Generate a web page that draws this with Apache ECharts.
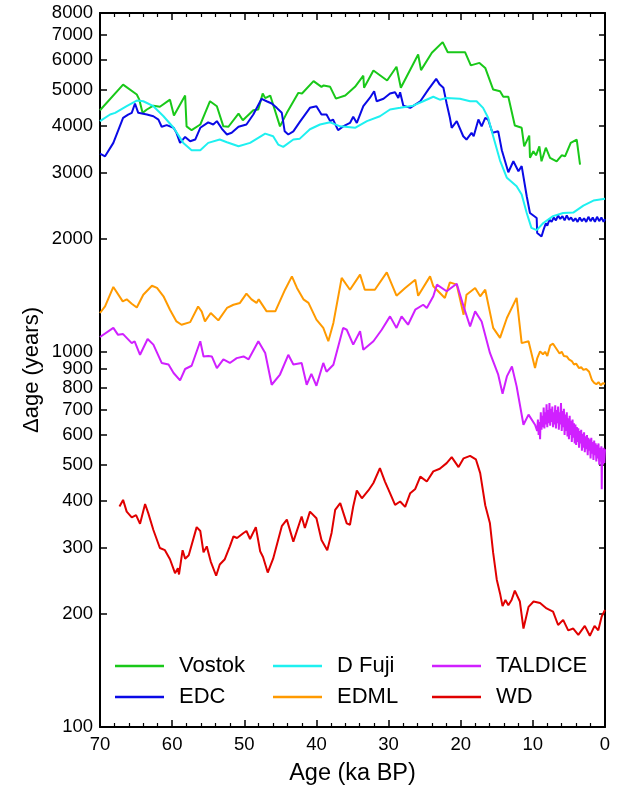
<!DOCTYPE html>
<html>
<head>
<meta charset="utf-8">
<script src="https://cdn.jsdelivr.net/npm/echarts@6/dist/echarts.min.js"></script>
<style>
html,body{margin:0;padding:0;background:#fff;}
#chart{width:619px;height:785px;}
</style>
</head>
<body>
<div id="chart"></div>
<script>
// [age (ka BP), delta age (years)]
const vostok = [[70,4405],[66.8,5155],[64.9,4850],[64.55,4700],[64.1,4335],[63.5,4425],[62.6,4530],[61.7,4500],[60.3,4700],[59.75,4265],[58.2,4820],[58.0,3990],[57.3,3897],[56.1,4035],[54.75,4655],[53.8,4515],[52.9,3990],[52.2,3980],[50.8,4315],[50.2,4140],[48.75,4405],[48.06,4425],[47.45,4880],[47.1,4745],[46.4,4820],[45.05,3990],[44.1,4335],[42.5,4900],[42.0,4880],[40.4,5265],[39.3,5085],[39.0,5130],[38.1,5085],[37.3,4730],[36.0,4820],[34.65,5085],[33.5,5445],[33.4,5055],[32.1,5620],[30.2,5285],[28.9,5750],[28.3,5055],[25.9,6200],[25.5,5635],[24.0,6265],[22.5,6690],[21.8,6290],[19.4,6290],[18.6,5800],[17.4,5890],[16.6,5710],[15.5,5000],[14.55,4950],[14.1,4785],[13.4,4785],[12.5,4010],[11.55,3955],[11.2,3530],[10.5,3770],[10.4,3290],[9.93,3425],[9.56,3340],[9.1,3530],[8.8,3220],[8.2,3500],[7.62,3290],[6.7,3220],[6.0,3340],[5.54,3320],[4.75,3605],[3.92,3680],[3.46,3155]];

const edc = [[70,3375],[69.3,3320],[68.15,3605],[66.8,4205],[66.1,4290],[65.6,4335],[65.15,4590],[64.7,4335],[63.5,4290],[62.6,4245],[61.9,4160],[61.45,3980],[60.75,4020],[59.8,3955],[59.4,3835],[58.9,3605],[58.2,3740],[57.5,3640],[56.8,3680],[56.1,3955],[55.0,4090],[54.3,4035],[53.8,4120],[53.1,3930],[52.4,3795],[51.75,3835],[50.8,3980],[49.7,4035],[48.75,4290],[47.6,4725],[46.9,4655],[46.2,4590],[45.5,4470],[44.8,4335],[44.4,3870],[43.9,3795],[43.2,3870],[42.3,4100],[40.9,4470],[40.0,4515],[39.3,4290],[38.6,4290],[38.1,4120],[37.7,4160],[37.0,3897],[36.3,3990],[35.35,4075],[34.9,4230],[34.4,4075],[33.5,4515],[32.6,4750],[32.0,4950],[31.65,4655],[30.7,4725],[29.8,4880],[29.1,4920],[28.65,4750],[28.4,4920],[27.95,4530],[27.0,4470],[25.6,4655],[24.5,5000],[23.4,5340],[22.9,5155],[22.4,5055],[21.95,4590],[21.5,4205],[21.25,3955],[20.55,4120],[19.65,3755],[19.2,3680],[18.5,3835],[18.2,3755],[17.55,4160],[17.1,3990],[16.6,4205],[16.2,4160],[15.6,3835],[14.8,3870],[14.3,3445],[13.4,3010],[12.7,3220],[12.0,3030],[11.55,3125],[10.85,2598],[10.4,2345],[9.47,2273],[9.4,2073],[8.8,2030],[8.5,2120],[8.2,2200],[8.0,2170],[7.7,2250],[7.4,2220],[7.1,2280],[6.8,2240],[6.5,2310],[6.2,2260],[5.9,2300],[5.6,2240],[5.3,2310],[5.0,2250],[4.7,2280],[4.4,2230],[4.1,2270],[3.8,2220],[3.5,2280],[3.2,2230],[2.9,2270],[2.6,2220],[2.3,2290],[2.0,2230],[1.7,2280],[1.4,2220],[1.1,2290],[0.8,2230],[0.5,2280],[0.2,2220],[0,2260]];

const dfuji = [[70,4120],[68.6,4290],[67.9,4335],[66.3,4515],[64.9,4675],[64.0,4655],[62.6,4515],[61.2,4245],[59.8,3955],[58.45,3605],[57.3,3445],[56.1,3445],[55.0,3605],[53.4,3680],[52.4,3620],[50.8,3530],[49.2,3605],[47.1,3815],[46.0,3755],[45.3,3568],[44.6,3517],[43.2,3680],[42.3,3700],[40.9,3920],[39.5,4035],[38.1,4090],[36.7,3990],[34.65,3955],[33.0,4120],[31.2,4245],[29.8,4425],[28.4,4470],[26.6,4530],[25.2,4655],[23.8,4785],[22.9,4700],[21.95,4750],[20.1,4725],[18.7,4655],[17.8,4655],[16.9,4470],[16.2,4205],[15.5,3755],[14.55,3235],[13.6,2910],[12.25,2763],[11.55,2625],[10.85,2345],[10.2,2140],[9.47,2110],[8.55,2205],[7.2,2300],[5.8,2345],[4.4,2350],[3.0,2453],[1.6,2530],[0,2560]];

const edml = [[70,1269],[69.3,1321],[68.15,1489],[66.85,1363],[66.3,1380],[65.6,1343],[64.9,1313],[64.0,1420],[62.8,1500],[62.1,1480],[61.2,1406],[60.3,1295],[59.4,1205],[58.7,1181],[57.5,1200],[56.4,1321],[55.9,1280],[55.45,1205],[54.65,1269],[53.6,1213],[52.4,1309],[51.5,1335],[50.6,1350],[49.7,1429],[49.0,1380],[48.3,1350],[48.0,1380],[46.9,1282],[45.7,1282],[44.35,1464],[43.4,1589],[42.7,1480],[41.8,1380],[41.1,1350],[40.0,1218],[39.05,1158],[38.35,1067],[37.65,1194],[36.5,1574],[35.35,1464],[33.95,1606],[33.3,1464],[31.9,1464],[30.25,1629],[28.9,1411],[27.7,1480],[26.3,1557],[25.9,1411],[24.25,1589],[23.8,1495],[22.2,1392],[21.5,1531],[20.55,1510],[19.6,1256],[19.2,1420],[18.0,1480],[17.3,1406],[16.6,1464],[15.5,1158],[14.55,1089],[13.6,1231],[12.25,1392],[11.55,1055],[10.6,1067],[9.7,905],[9.4,960],[9.0,1003],[8.6,985],[8.3,1000],[8.0,975],[7.6,1040],[7.2,1051],[6.9,1030],[6.6,1010],[6.3,990],[6.0,1000],[5.7,975],[5.3,972],[5.0,955],[4.6,945],[4.3,925],[4.0,930],[3.6,905],[3.3,910],[3.0,895],[2.6,900],[2.2,885],[2.0,895],[1.8,840],[1.5,826],[1.2,820],[0.9,830],[0.6,815],[0.3,825],[0,822]];

const taldice = [[70,1095],[68.15,1158],[67.5,1110],[66.8,1115],[65.6,1055],[65.2,1067],[64.45,982],[63.4,1082],[62.6,1045],[61.45,934],[60.5,925],[59.8,878],[58.9,839],[58.2,900],[57.3,918],[56.1,1067],[55.65,972],[55.0,975],[54.5,972],[53.8,905],[52.9,955],[52.0,934],[51.05,962],[50.1,972],[49.4,955],[48.05,1067],[47.1,993],[46.2,817],[45.05,870],[43.9,982],[43.2,925],[42.05,934],[41.35,817],[40.7,873],[40.0,812],[39.05,934],[38.6,885],[37.65,924],[36.3,1158],[35.8,1145],[34.9,1045],[33.95,1135],[33.5,1013],[32.1,1067],[30.95,1145],[29.8,1243],[28.9,1158],[28.2,1243],[27.3,1181],[26.3,1295],[25.2,1335],[24.7,1309],[23.8,1406],[23.3,1510],[21.95,1450],[20.55,1519],[19.6,1321],[18.7,1169],[18.0,1282],[17.1,1205],[15.95,993],[14.8,869],[14.2,773],[13.6,860],[12.9,914],[12.25,809],[11.3,639],[10.6,680],[9.7,639],
[9.5,640],[9.4,615],[9.3,660],[9.2,600],[9.1,650],[9.0,585],[8.9,690],[8.8,620],[8.7,675],[8.6,630],[8.5,710],[8.4,625],[8.3,690],[8.2,640],[8.1,725],[8.0,630],[7.9,700],[7.8,645],[7.7,730],[7.6,635],[7.5,705],[7.4,650],[7.3,715],[7.2,630],[7.1,690],[7.0,640],[6.9,720],[6.8,625],[6.7,700],[6.6,645],[6.5,715],[6.4,620],[6.3,690],[6.2,640],[6.1,730],[6.0,615],[5.9,695],[5.8,630],[5.7,705],[5.6,600],[5.5,680],[5.4,615],[5.3,690],[5.2,595],[5.1,665],[5.0,585],[4.9,675],[4.8,600],[4.7,655],[4.6,575],[4.5,660],[4.4,590],[4.3,645],[4.2,570],[4.1,640],[4.0,565],[3.9,630],[3.8,575],[3.7,625],[3.6,555],[3.5,615],[3.4,570],[3.3,620],[3.2,545],[3.1,605],[3.0,555],[2.9,610],[2.8,540],[2.7,595],[2.6,550],[2.5,600],[2.4,530],[2.3,590],[2.2,545],[2.1,585],[2.0,520],[1.9,590],[1.8,535],[1.7,575],[1.6,515],[1.5,580],[1.4,530],[1.3,570],[1.2,510],[1.1,565],[1.0,520],[0.9,570],[0.8,500],[0.7,555],[0.6,510],[0.5,560],[0.45,430],[0.4,540],[0.3,500],[0.2,555],[0.1,505],[0,550]];

const wd = [[67.3,387],[66.8,403],[66.3,375],[65.6,362],[65.0,367],[64.45,348],[63.75,393],[63.3,371],[62.6,335],[61.7,300],[61.0,296],[60.3,280],[59.6,257],[59.2,265],[59.05,255],[58.55,296],[58.2,281],[57.7,287],[56.6,341],[56.1,333],[55.65,292],[55.2,303],[54.65,276],[53.9,253],[53.4,271],[52.7,280],[52.0,303],[51.5,322],[51.0,319],[50.1,329],[49.7,333],[49.2,317],[48.4,341],[47.8,294],[47.4,284],[46.75,258],[46.0,281],[44.8,343],[44.1,357],[43.2,312],[42.05,364],[41.6,339],[40.9,375],[40.0,360],[39.3,315],[38.5,296],[37.9,329],[37.4,379],[36.7,395],[35.8,349],[35.35,346],[34.9,387],[34.4,427],[33.7,407],[32.8,427],[32.1,447],[31.2,490],[30.5,451],[29.8,420],[29.1,391],[28.4,399],[27.7,386],[27.0,420],[26.3,431],[25.6,465],[24.7,451],[23.8,480],[22.9,488],[21.95,505],[21.25,524],[20.3,493],[19.6,520],[18.7,528],[17.9,517],[17.3,475],[16.6,390],[15.95,349],[15.5,291],[15.0,247],[14.55,227],[14.2,210],[13.8,218],[13.4,211],[12.95,218],[12.5,231],[11.8,216],[11.3,183],[10.6,209],[9.9,216],[9.0,214],[8.1,207],[7.2,203],[6.5,187],[5.8,193],[5.1,181],[4.4,183],[3.7,176],[2.8,186],[2.1,175],[1.45,186],[0.93,181],[0.46,197],[0,205]];

const yTickValues = [100,200,300,400,500,600,700,800,900,1000,2000,3000,4000,5000,6000,7000,8000];
const seriesNames = ['Vostok','EDC','D Fuji','EDML','TALDICE','WD'];
const seriesColors = ['#19c819','#0a0ae6','#1ef0f0','#ff9a00','#d020ff','#e00000'];
const seriesData = [vostok, edc, dfuji, edml, taldice, wd];

const FONT = "'Liberation Sans', Arial, sans-serif";
const logTicks = yTickValues.map(v => Math.log10(v));
const yMinLog = Math.log10(100), yMaxLog = Math.log10(8000);

const chart = echarts.init(document.getElementById('chart'), null, {renderer:'canvas'});

const xCommon = {
  type:'value', min:0, max:70, interval:10, inverse:true,
  axisLine:{show:true, onZero:false, lineStyle:{color:'#000', width:2}},
  axisTick:{show:true, inside:true, length:7, lineStyle:{color:'#000', width:1.5}},
  minorTick:{show:true, splitNumber:5, length:4, lineStyle:{color:'#000', width:1.2}},
  splitLine:{show:false}, minorSplitLine:{show:false}
};

const legendCommon = {
  orient:'vertical', top:650, itemWidth:49, itemHeight:2.5, itemGap:9, icon:'rect',
  textStyle:{fontSize:22, fontFamily:FONT, color:'#000', padding:[0,0,0,10], lineHeight:22},
  selectedMode:false
};

chart.setOption({
  animation:false,
  backgroundColor:'#fff',
  grid:{left:100, right:14, top:13, bottom:58, containLabel:false, outerBoundsMode:'none'},
  legend:[
    Object.assign({}, legendCommon, {left:110, data:['Vostok','EDC']}),
    Object.assign({}, legendCommon, {left:268, data:['D Fuji','EDML']}),
    Object.assign({}, legendCommon, {left:427, data:['TALDICE','WD']})
  ],
  xAxis:[
    Object.assign({}, xCommon, {
      position:'bottom',
      name:'Age (ka BP)', nameLocation:'middle', nameGap:35,
      nameTextStyle:{fontSize:23.5, fontFamily:FONT, color:'#000'},
      axisLabel:{show:true, margin:8, fontSize:18.5, fontFamily:FONT, color:'#000'}
    }),
    Object.assign({}, xCommon, {position:'top', axisLabel:{show:false}})
  ],
  yAxis:[
    {
      type:'log', logBase:10, min:100, max:8000, position:'left',
      name:'\u0394age (years)', nameLocation:'middle', nameGap:57,
      nameTextStyle:{fontSize:22, fontFamily:FONT, color:'#000'},
      axisLine:{show:true, onZero:false, lineStyle:{color:'#000', width:2}},
      axisTick:{show:false}, axisLabel:{show:false}, splitLine:{show:false}, minorTick:{show:false}
    },
    {
      type:'value', min:yMinLog, max:yMaxLog, position:'left',
      axisLine:{show:false, onZero:false},
      axisTick:{show:true, inside:true, length:7, customValues:logTicks, lineStyle:{color:'#000', width:1.5}},
      axisLabel:{show:true, margin:7, fontSize:18.5, fontFamily:FONT, color:'#000',
        customValues:logTicks, formatter:(v)=>String(Math.round(Math.pow(10, v)))},
      splitLine:{show:false}
    },
    {
      type:'value', min:yMinLog, max:yMaxLog, position:'right',
      axisLine:{show:true, onZero:false, lineStyle:{color:'#000', width:2}},
      axisTick:{show:true, inside:true, length:6, customValues:logTicks, lineStyle:{color:'#000', width:1.5}},
      axisLabel:{show:false}, splitLine:{show:false}
    }
  ],
  series: seriesNames.map((name, i) => ({
    name:name, type:'line', xAxisIndex:0, yAxisIndex:0,
    data:seriesData[i], symbol:'none', showSymbol:false,
    color:seriesColors[i],
    lineStyle:{color:seriesColors[i], width:2},
    z:2+i
  }))
});
</script>
</body>
</html>
